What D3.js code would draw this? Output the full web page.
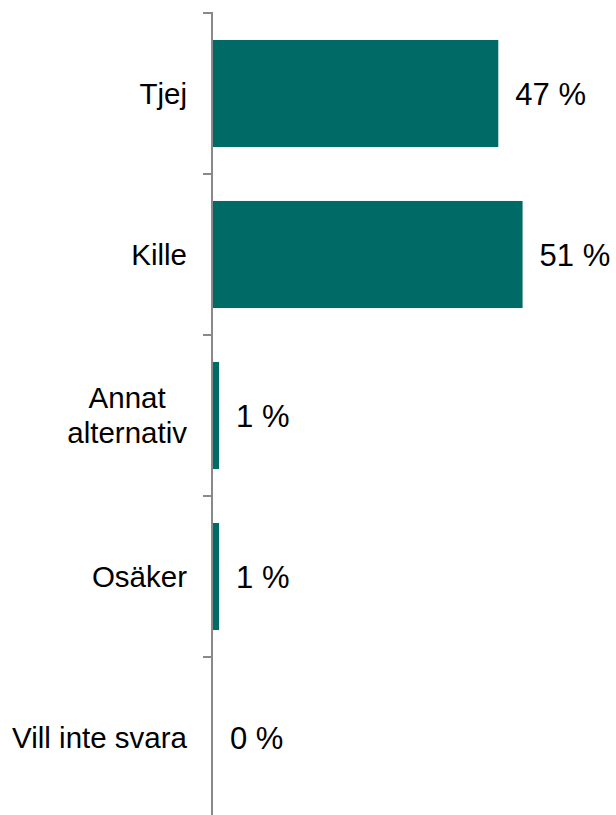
<!DOCTYPE html>
<html><head><meta charset="utf-8">
<script src="https://cdn.jsdelivr.net/npm/d3@7"></script>
<style>html,body{margin:0;padding:0;background:#fff;}svg{display:block;}</style>
</head><body>
<svg id="chart" width="616" height="815"></svg>
<script>
const categories = ["Tjej", "Kille", "Annat alternativ", "Osäker", "Vill inte svara"];
const categoryLines = [["Tjej"], ["Kille"], ["Annat", "alternativ"], ["Osäker"], ["Vill inte svara"]];
const values = [47, 51, 1, 1, 0];
const valueLabels = ["47 %", "51 %", "1 %", "1 %", "0 %"];

const svg = d3.select("#chart");
const axisX = 212;
const x = d3.scaleLinear().domain([0, 100]).range([213, 820]);
const pad = 0.335;
const y = d3.scaleBand().domain(categories).range([13, 818]).paddingInner(pad).paddingOuter(pad / 2);
const step = y.step();
const font = "Arial, 'Liberation Sans', sans-serif";
const barColor = "#006B66";
const axisColor = "#898989";

// bars
svg.selectAll("rect.bar").data(categories).join("rect")
  .attr("class", "bar")
  .attr("x", x(0))
  .attr("y", d => y(d))
  .attr("width", (d, i) => x(values[i]) - x(0))
  .attr("height", y.bandwidth())
  .attr("fill", barColor);

// axis line
svg.append("line").attr("x1", axisX).attr("x2", axisX)
  .attr("y1", 12).attr("y2", 815)
  .attr("stroke", axisColor).attr("stroke-width", 2);

// ticks at band boundaries
const bounds = categories.map(c => y(c) - pad * step / 2);
svg.selectAll("line.tick").data(bounds).join("line")
  .attr("class", "tick")
  .attr("x1", axisX - 9).attr("x2", axisX)
  .attr("y1", d => d).attr("y2", d => d)
  .attr("stroke", axisColor).attr("stroke-width", 2);

// category labels
const labelRight = 187;
categories.forEach((c, i) => {
  const lines = categoryLines[i];
  const cy = y(c) + y.bandwidth() / 2;
  const lh = 35;
  const g = svg.append("text")
    .attr("font-family", font).attr("font-size", 29.5).attr("fill", "#000");
  lines.forEach((ln, j) => {
    g.append("tspan").text(ln)
      .attr("y", cy + (j - (lines.length - 1) / 2) * lh)
      .attr("dy", "0.35em");
  });
  if (lines.length === 1) {
    g.attr("text-anchor", "end");
    g.selectAll("tspan").attr("x", labelRight);
  } else {
    let maxW = 0;
    g.selectAll("tspan").each(function () { maxW = Math.max(maxW, this.getComputedTextLength()); });
    g.attr("text-anchor", "middle");
    g.selectAll("tspan").attr("x", labelRight - maxW / 2);
  }
});

// value labels
svg.selectAll("text.val").data(categories).join("text")
  .attr("class", "val")
  .attr("x", (d, i) => x(values[i]) + 17)
  .attr("y", d => y(d) + y.bandwidth() / 2)
  .attr("dy", "0.36em")
  .attr("font-family", font).attr("font-size", 31).attr("fill", "#000")
  .text((d, i) => valueLabels[i]);
</script>
</body></html>
